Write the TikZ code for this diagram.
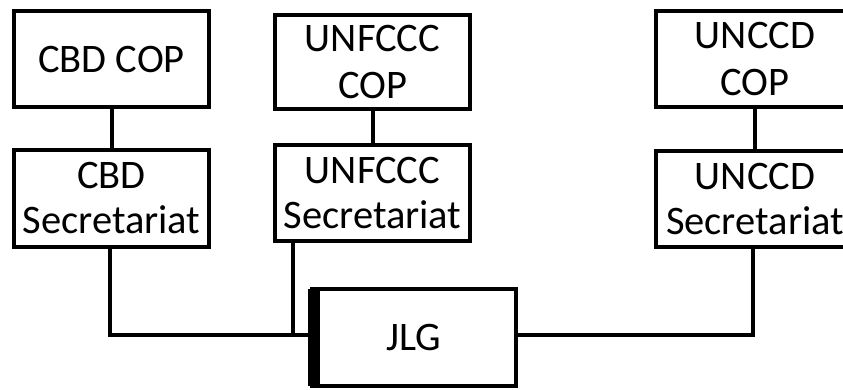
\documentclass[tikz,border=0pt]{standalone}
\usepackage{fontspec}
\setmainfont{Carlito}
\begin{document}
\begin{tikzpicture}[x=1pt,y=-1pt,
  box/.style={draw=black, line width=4pt, rectangle, inner sep=0pt, align=center,
    font=\fontsize{40.5}{45}\selectfont, minimum width=195pt, minimum height=96pt},
  link/.style={draw=black, line width=4pt}]
\useasboundingbox (0,0) rectangle (843,390);
\node[box] (cbdcop) at (111.5,59.5) {CBD COP};
\node[box, minimum height=97pt] (cbdsec) at (111.5,198.5) {CBD\\Secretariat};
\node[box, minimum height=94pt] (uncop) at (372.5,62) {UNFCCC\\[2pt]COP};
\node[box] (unsec) at (372.5,193) {UNFCCC\\Secretariat};
\node[box, minimum width=198pt] (cdcop) at (755,59) {UNCCD\\[2pt]COP};
\node[box, minimum width=198pt] (cdsec) at (755,199) {UNCCD\\Secretariat};
\node[box, minimum width=204pt, minimum height=97pt] (jlg) at (414,337.5) {JLG};
\fill[black] ([xshift=-2pt,yshift=2pt]jlg.south west) rectangle ([xshift=10pt,yshift=-2pt]jlg.north west);
\draw[link] (cbdcop.south) -- (cbdsec.north);
\draw[link] (uncop.south) -- (unsec.north);
\draw[link] (cdcop.south) -- (cdsec.north);
\draw[link] ([xshift=-1.5pt]cbdsec.south) |- ([yshift=2.5pt]jlg.west);
\draw[link] ([xshift=20pt]unsec.south west) |- ([yshift=2.5pt]jlg.west);
\draw[link] ([yshift=2.5pt]jlg.east) -| ([xshift=-2pt]cdsec.south);
\end{tikzpicture}
\end{document}
